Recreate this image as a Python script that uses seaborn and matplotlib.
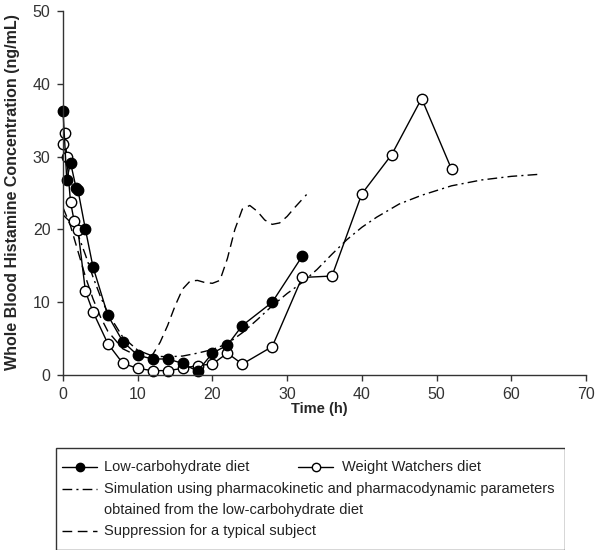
import numpy as np
import pandas as pd
import matplotlib
matplotlib.use("Agg")
import matplotlib.pyplot as plt
from matplotlib.lines import Line2D
from matplotlib.patches import Rectangle
import seaborn as sns

# Дані
lc_time = [0, 0.5, 1, 1.75, 2, 3, 4, 6, 8, 10, 12, 14, 16, 18, 20, 22, 24, 28, 32]
lc_conc = [36.3, 26.8, 29.2, 25.7, 25.4, 20.0, 14.9, 8.2, 4.6, 2.7, 2.2, 2.2, 1.6, 0.5,
           3.0, 4.1, 6.8, 10.0, 16.3]

ww_time = [0, 0.25, 0.5, 1, 1.5, 2, 3, 4, 6, 8, 10, 12, 14, 16, 18, 20, 22, 24, 28,
           32, 36, 40, 44, 48, 52]
ww_conc = [31.8, 33.2, 29.9, 23.8, 21.1, 19.9, 11.5, 8.7, 4.3, 1.6, 0.9, 0.6, 0.6, 0.9,
           1.3, 1.5, 3.0, 1.5, 3.9, 13.4, 13.6, 24.9, 30.3, 38.0, 28.3]

sim_time = [0, 1, 2, 3, 4, 5, 6, 8, 10, 12, 14, 16, 18, 20, 22, 24, 26, 28, 30, 32,
            34, 36, 38, 40, 42, 45, 48, 52, 56, 60, 64]
sim_conc = [22.0, 21.0, 19.3, 16.5, 13.5, 10.8, 8.5, 5.2, 3.4, 2.6, 2.5, 2.6, 3.0, 3.5,
            4.3, 5.8, 7.6, 9.5, 11.2, 12.7, 14.5, 16.6, 18.6, 20.3, 21.7, 23.5, 24.7,
            26.0, 26.8, 27.3, 27.6]

sup_time = [0, 1, 2, 3, 4, 5, 6, 8, 10, 11, 12, 13, 14, 15, 16, 17, 18, 19, 20, 21,
            22, 23, 24, 25, 26, 27, 28, 29, 30, 31, 32.6]
sup_conc = [23.0, 20.5, 17.0, 13.5, 10.5, 8.0, 6.0, 3.6, 2.6, 2.4, 2.8, 4.5, 6.8, 9.5,
            11.8, 12.9, 13.0, 12.7, 12.6, 13.0, 16.0, 20.0, 22.8, 23.3, 22.5, 21.3,
            20.7, 20.9, 21.8, 23.0, 24.8]

legend_labels = ["Low-carbohydrate diet", "Weight Watchers diet",
                 "Simulation using pharmacokinetic and pharmacodynamic parameters\n"
                 "obtained from the low-carbohydrate diet",
                 "Suppression for a typical subject"]

sns.set_style("ticks")
plt.rcParams["font.family"] = ["Liberation Sans", "DejaVu Sans"]

fig = plt.figure(figsize=(6.02, 5.60), dpi=100)
ax = fig.add_axes([0.1047, 0.3304, 0.8687, 0.6496])

sim_style = (0, (7, 3, 1.5, 3))
sup_style = (0, (7, 4))

sns.lineplot(x=sup_time, y=sup_conc, ax=ax, color="black", lw=1.0, linestyle=sup_style)
sns.lineplot(x=sim_time, y=sim_conc, ax=ax, color="black", lw=1.0, linestyle=sim_style)
sns.lineplot(x=ww_time, y=ww_conc, ax=ax, color="black", lw=1.0, marker="o",
             markersize=7.5, markerfacecolor="white", markeredgecolor="black",
             markeredgewidth=1.0, clip_on=False)
sns.lineplot(x=lc_time, y=lc_conc, ax=ax, color="black", lw=1.0, marker="o",
             markersize=7.5, markerfacecolor="black", markeredgecolor="black",
             markeredgewidth=1.0, clip_on=False)

ax.set_xlim(0, 70)
ax.set_ylim(0, 50)
ax.set_xticks(range(0, 71, 10))
ax.set_yticks(range(0, 51, 10))
ax.set_xlabel("Time (h)", fontsize=10.5, fontweight="bold", va="center")
ax.set_ylabel("Whole Blood Histamine Concentration (ng/mL)", fontsize=11.5,
              fontweight="bold", va="center")
ax.xaxis.set_label_coords(0.491, -0.094)
ax.yaxis.set_label_coords(-0.097, 0.503)
ax.tick_params(axis="both", labelsize=11.5, colors="#333333", length=4, width=1, pad=5)
sns.despine(ax=ax)
for s in ["left", "bottom"]:
    ax.spines[s].set_color("#333333")
    ax.spines[s].set_linewidth(1.0)

# Легенда в рамці
lax = fig.add_axes([55 / 602, 1 - 550 / 560, 510 / 602, 103 / 560])
lax.set_xlim(0, 510)
lax.set_ylim(103, 0)
lax.axis("off")
lax.add_patch(Rectangle((0.5, 0.5), 509, 102, fill=False, ec="#333333", lw=1.0))

def handle(x0, y, **kw):
    lax.add_line(Line2D([x0, x0 + 35], [y, y], color="black", lw=1.0, **kw))

handle(7, 20, marker="o", markevery=[1], markersize=6, mfc="black", mec="black")
lax.lines[-1].set_data([7, 24.5, 42], [20, 20, 20])
handle(243, 20, marker="o", markersize=6, mfc="white", mec="black")
lax.lines[-1].set_data([243, 260.5, 278], [20, 20, 20])
lax.lines[-1].set_markevery([1])
handle(7, 42, linestyle=(0, (7, 3, 1.5, 3)))
handle(7, 84, linestyle=(0, (7, 4)))

tkw = dict(fontsize=10.5, color="#222222", va="center")
lax.text(49, 20, legend_labels[0], **tkw)
lax.text(287, 20, legend_labels[1], **tkw)
lax.text(49, 42, legend_labels[2].split("\n")[0], **tkw)
lax.text(49, 63, legend_labels[2].split("\n")[1], **tkw)
lax.text(49, 84, legend_labels[3], **tkw)

fig.savefig("out.png", dpi=100)
